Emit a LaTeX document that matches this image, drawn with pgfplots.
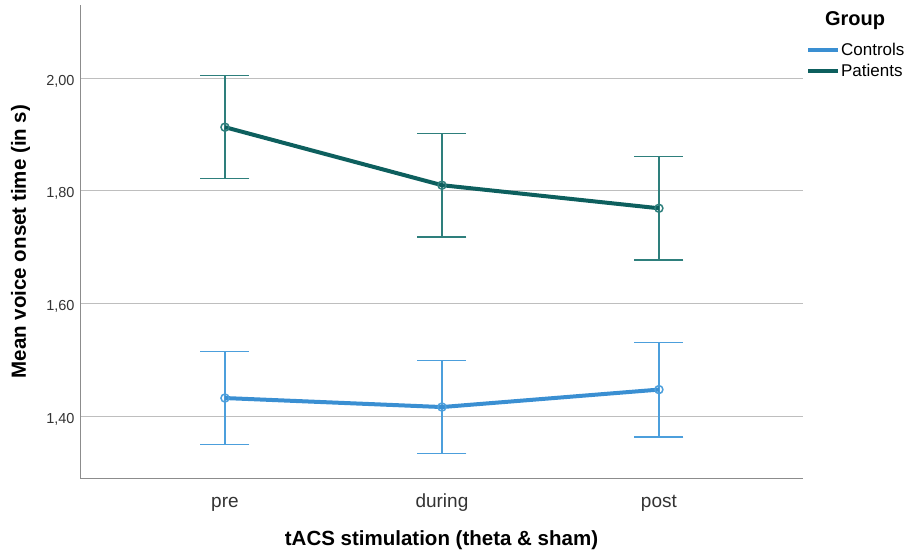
\documentclass[border=0pt]{standalone}
\usepackage{pgfplots}
\pgfplotsset{compat=1.18}
\usepackage{fontspec}
\setmainfont{Liberation Sans}
\definecolor{ctrl}{HTML}{3A8FD2}
\definecolor{ctrlerr}{HTML}{4C9FDC}
\definecolor{pat}{HTML}{0D5F5E}
\definecolor{paterr}{HTML}{2E7F7C}
\definecolor{gridc}{HTML}{BEBEBE}
\definecolor{axc}{HTML}{8C8C8C}
\begin{document}
\begin{tikzpicture}[x=1bp,y=1bp]
\path (0,0) rectangle (908,552);
\begin{axis}[
  at={(80bp,74bp)}, anchor=south west,
  scale only axis, width=723bp, height=473bp,
  xmin=-0.668, xmax=2.664, ymin=1.29, ymax=2.13,
  axis x line=bottom, axis y line=left,
  axis line style={draw=axc, line width=1bp, -},
  xtick={0,1,2}, xticklabels={pre,during,post},
  ytick={1.4,1.6,1.8,2.0},
  major tick length=0pt,
  ymajorgrids, grid style={draw=gridc, line width=1bp},
  /pgf/number format/.cd, use comma, fixed, fixed zerofill, precision=2, assume math mode=true,
  /pgfplots/.cd,
  ticklabel style={text=black!80},
  xticklabel style={font=\fontsize{19bp}{22bp}\selectfont, anchor=base, yshift=-29bp},
  yticklabel style={font=\fontsize{14.5bp}{17bp}\selectfont, xshift=-2bp, yshift=-3bp},
  xlabel={\bfseries tACS stimulation (theta \& sham)},
  ylabel={\bfseries Mean voice onset time (in s)},
  label style={font=\fontsize{20.5bp}{24bp}\selectfont},
  xlabel style={at={(axis description cs:0.5,0)}, anchor=base, yshift=-67bp},
  ylabel style={at={(axis description cs:0,0.5)}, anchor=base, yshift=54bp},
  legend style={draw=none, fill=none, at={(rel axis cs:1.004,0.921)}, anchor=north west,
    font=\fontsize{17bp}{20bp}\selectfont, row sep=4.5bp, inner sep=0pt,
    legend cell align=left, nodes={inner sep=1bp}},
  legend image code/.code={\draw[#1, line width=4bp] (0bp,0bp) -- (30bp,0bp);},
  clip=false,
]
% legend entries
\addlegendimage{draw=ctrl}
\addlegendentry{Controls}
\addlegendimage{draw=pat}
\addlegendentry{Patients}

% Controls: 95% CI error bars
\addplot[draw=none, mark=none, forget plot,
  error bars/.cd, y dir=both, y explicit,
  error bar style={draw=ctrlerr, line width=1.4bp},
  error mark options={draw=ctrlerr, line width=1.4bp, mark size=24.5bp, rotate=90}]
  coordinates {(0,1.432) +- (0,0.083) (1,1.416) +- (0,0.083) (2,1.447) +- (0,0.084)};
% Patients: 95% CI error bars
\addplot[draw=none, mark=none, forget plot,
  error bars/.cd, y dir=both, y explicit,
  error bar style={draw=paterr, line width=1.4bp},
  error mark options={draw=paterr, line width=1.4bp, mark size=24.5bp, rotate=90}]
  coordinates {(0,1.913) +- (0,0.0915) (1,1.810) +- (0,0.092) (2,1.769) +- (0,0.092)};

% group means
\addplot[ctrl, line width=4bp, forget plot] coordinates {(0,1.432) (1,1.416) (2,1.447)};
\addplot[pat, line width=4bp, forget plot] coordinates {(0,1.913) (1,1.810) (2,1.769)};
\addplot[only marks, mark=o, mark size=4bp, mark options={draw=ctrlerr, line width=1.5bp, fill=none}, forget plot]
  coordinates {(0,1.432) (1,1.416) (2,1.447)};
\addplot[only marks, mark=o, mark size=4bp, mark options={draw=paterr, line width=1.5bp, fill=none}, forget plot]
  coordinates {(0,1.913) (1,1.810) (2,1.769)};

\node[font=\fontsize{20bp}{24bp}\selectfont\bfseries, anchor=center] at (rel axis cs:1.072,0.966) {Group};
\end{axis}
\end{tikzpicture}
\end{document}
